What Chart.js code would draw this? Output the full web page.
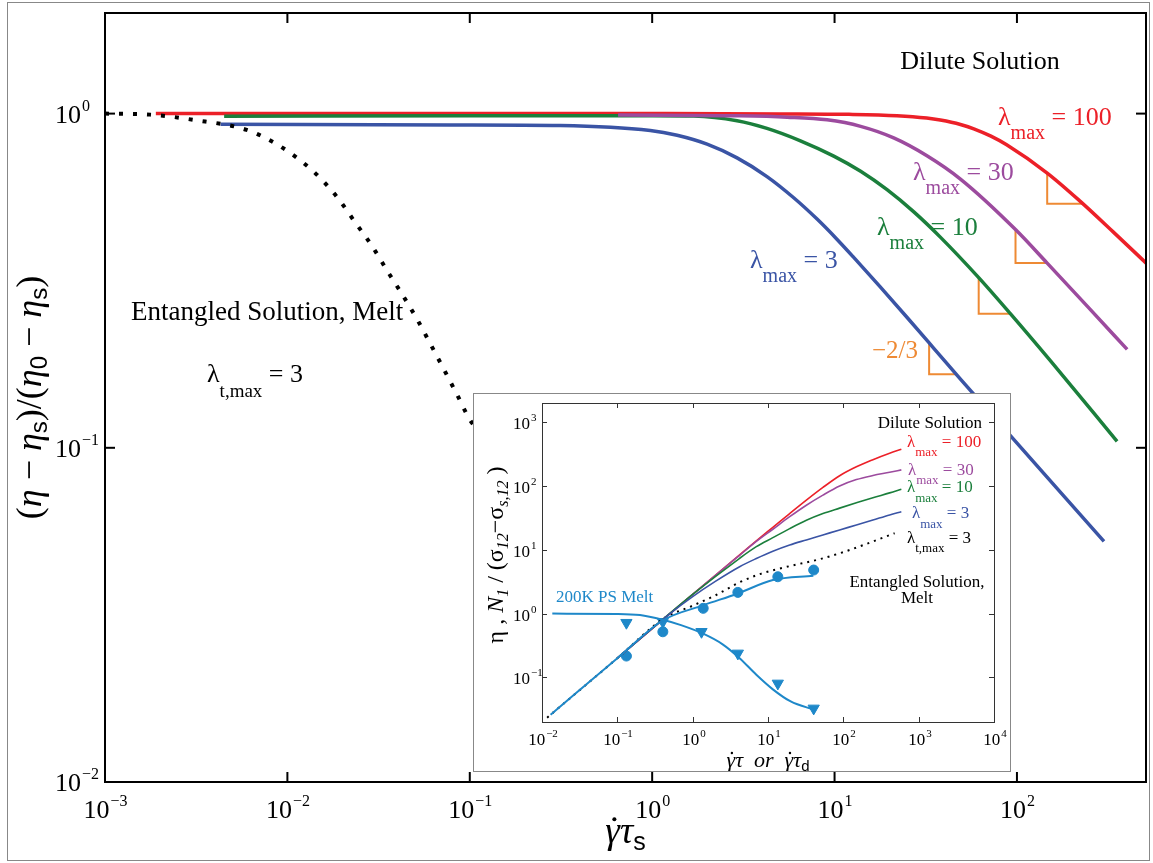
<!DOCTYPE html>
<html>
<head>
<meta charset="utf-8">
<script src="https://cdn.jsdelivr.net/npm/chart.js@4.4.1/dist/chart.umd.min.js"></script>
<style>
  body { margin: 0; background: #fff; }
  #wrap { position: relative; width: 1153px; height: 863px; }
  #main { position: absolute; left: 0; top: 0; }
  #outline { position: absolute; left: 7px; top: 2px; width: 1143px; height: 859px; border: 1px solid #888; box-sizing: border-box; pointer-events: none; }
  #insetBox { position: absolute; left: 473px; top: 393px; width: 538px; height: 379px; background: #fff; border: 1px solid #888; box-sizing: border-box; }
  #inset { position: absolute; left: 0; top: 0; }
</style>
</head>
<body>
<div id="wrap">
  <canvas id="main" width="1153" height="863"></canvas>
  <div id="insetBox"><canvas id="inset" width="536" height="377"></canvas></div>
  <div id="outline"></div>
</div>
<script>
// ---- main plot: (eta - eta_s)/(eta_0 - eta_s) vs shear rate * tau_s ----
const mainXTicks = [1e-3, 1e-2, 1e-1, 1, 10, 100];
const mainYTicks = [1e-2, 1e-1, 1];

const rate100 = [0.0019, 0.01, 0.1, 1, 5, 12, 22, 32, 38, 49, 58, 72, 87.8, 146.5, 222.5, 338, 520];
const eta100  = [1.0, 1.0, 1.0, 1.0, 0.998, 0.995, 0.9856, 0.9695, 0.9563, 0.9278, 0.9006, 0.856, 0.8067, 0.6639, 0.5463, 0.442, 0.3537];
const rate30  = [0.65, 3, 5.5, 9.1, 13.9, 21.1, 32.1, 49, 98.2, 146.5, 242.7, 402];
const eta30   = [0.99, 0.985, 0.976, 0.958, 0.916, 0.846, 0.748, 0.637, 0.45, 0.357, 0.2655, 0.197];
const rate10  = [0.0045, 0.1, 1.0, 1.69, 2.92, 4.26, 6.5, 9.9, 13.9, 19.4, 27.2, 38, 61.7, 92, 152.8, 354];
const eta10   = [0.982, 0.985, 0.986, 0.9835, 0.952, 0.903, 0.829, 0.746, 0.672, 0.592, 0.508, 0.427, 0.323, 0.252, 0.182, 0.1046];
const rate3   = [0.0043, 0.078, 0.313, 0.977, 1.37, 2.0, 2.92, 4.26, 5.97, 8.02, 10.3, 12.7, 17.8, 25, 35, 49, 300];
const eta3    = [0.93, 0.925, 0.921, 0.89, 0.861, 0.81, 0.737, 0.648, 0.56, 0.4835, 0.421, 0.372, 0.303, 0.2454, 0.1985, 0.1604, 0.0525];
const rateEnt = [0.001, 0.00177, 0.00305, 0.00598, 0.00838, 0.01148, 0.01499, 0.01905, 0.0235, 0.029, 0.0351, 0.0424, 0.0513, 0.0607, 0.0718, 0.085, 0.1005, 0.105];
const etaEnt  = [1.0, 0.993, 0.958, 0.894, 0.821, 0.732, 0.645, 0.556, 0.473, 0.403, 0.34, 0.289, 0.243, 0.205, 0.1725, 0.1445, 0.1208, 0.117];
// -2/3 slope triangles
const slopeRate = [[146.5, 146.5, 231], [98.2, 98.2, 147], [61.7, 61.7, 92], [33, 33, 46]];
const slopeEta  = [[0.664, 0.537, 0.537], [0.45, 0.357, 0.357], [0.323, 0.252, 0.252], [0.206, 0.166, 0.166]];

// ---- inset: eta, N1/(sigma12 - sigma_s,12) vs shear rate ----
const insetXTicks = [1e-2, 1e-1, 1, 10, 100, 1e3, 1e4];
const insetYTicks = [1e-1, 1, 10, 100, 1e3];

const inRate  = [0.1, 1, 4.2, 7, 11.6, 19.4, 32.3, 53.6, 89.3, 149, 247, 412, 589];
const inN100  = [0.2, 2.0, 8.3, 13.8, 22.5, 37, 60, 95, 145, 200, 258, 325, 377];
const inN30   = [0.2, 2.0, 8.2, 13.5, 21, 33, 50, 72, 100, 126, 146, 164, 179];
const inN10   = [0.2, 2.0, 7.36, 11.2, 15.5, 21.5, 29, 37, 45, 54.5, 65.5, 78, 89];
const inRate3 = [0.1, 0.5, 1, 2, 4.2, 7, 11.6, 19.4, 32.3, 53.6, 89.3, 149, 247, 412, 589];
const inN3    = [0.2, 1.0, 1.85, 3.2, 5.43, 7.3, 9.5, 11.9, 14.3, 17.1, 20.5, 24.5, 29.3, 35.2, 39.6];
const inRateEnt = [0.0117, 0.1, 0.415, 1, 2, 4.2, 8, 20, 48, 100, 200, 480];
const inNEnt    = [0.0234, 0.2, 0.842, 1.33, 1.93, 3.1, 4.2, 5.6, 7.1, 9.2, 12.3, 18.2];
const meltN1Rate = [0.013, 0.1, 0.4, 1.41, 3.9, 11.6, 40];
const meltN1     = [0.026, 0.2, 0.78, 1.36, 2.05, 3.36, 3.93];
const meltEtaRate = [0.0137, 0.1, 0.2, 0.4, 0.7, 1.4, 2.5, 4.2, 7, 11.6, 20, 41.6];
const meltEta     = [1.0, 0.99, 0.95, 0.8, 0.66, 0.48, 0.33, 0.2, 0.11, 0.065, 0.042, 0.031];
const meltN1DataRate  = [0.132, 0.402, 1.38, 3.98, 13.5, 40.4];
const meltN1Data      = [0.216, 0.519, 1.21, 2.15, 3.78, 4.82];
const meltEtaDataRate = [0.132, 0.402, 1.31, 3.98, 13.5, 40.4];
const meltEtaData     = [0.72, 0.745, 0.519, 0.238, 0.0805, 0.0327];

const RED = '#ec2028', PURPLE = '#9c4b9e', GREEN = '#1b7f3c', BLUE = '#3a54a5', ORANGE = '#ee8a34', CYAN = '#1e88c9';
const SERIF = '"Liberation Serif", "Times New Roman", serif';
const SANS = '"Liberation Sans", "DejaVu Sans", sans-serif';

function pts(xs, ys) { return xs.map((x, i) => ({ x: x, y: ys[i] })); }
function curve(xs, ys, color, width, dash) {
  return { data: pts(xs, ys), borderColor: color, backgroundColor: color, borderWidth: width,
    borderDash: dash || [], borderCapStyle: 'butt', pointRadius: 0, cubicInterpolationMode: 'monotone', fill: false };
}

// draws a run of text pieces (sizes, italics, sub/superscripts) left to right
function rich(ctx, x, y, parts, align, color) {
  let total = 0;
  const ws = parts.map(p => {
    ctx.font = (p.it ? 'italic ' : '') + p.s + 'px ' + (p.f || SERIF);
    const w = ctx.measureText(p.t).width; total += w; return w;
  });
  let cx = align === 'center' ? x - total / 2 : align === 'right' ? x - total : x;
  ctx.textAlign = 'left'; ctx.textBaseline = 'alphabetic';
  parts.forEach((p, i) => {
    ctx.font = (p.it ? 'italic ' : '') + p.s + 'px ' + (p.f || SERIF);
    ctx.fillStyle = p.c || color;
    ctx.fillText(p.t, cx, y + (p.dy || 0));
    if (p.dot) {
      ctx.beginPath();
      ctx.arc(cx + ws[i] * 0.62, y - p.s * 0.64, p.s * 0.055, 0, 2 * Math.PI);
      ctx.fill();
    }
    cx += ws[i];
  });
}
function lam(ctx, x, y, color, size, sub, subSize, subDy, rest) {
  rich(ctx, x, y, [{ t: 'λ', s: size }, { t: sub, s: subSize, dy: subDy }, { t: rest, s: size }], 'left', color);
}
function expText(v) {
  const e = Math.round(Math.log10(v));
  return e < 0 ? '\u2212' + (-e) : String(e);
}
function tickLabel(ctx, px, py, v, base, sup, supDy, mode) {
  const e = expText(v);
  ctx.font = base + 'px ' + SERIF; const w1 = ctx.measureText('10').width;
  ctx.font = sup + 'px ' + SERIF; const w2 = ctx.measureText(e).width;
  const x0 = mode === 'x' ? px - (w1 + w2) / 2 : px - w1;
  ctx.fillStyle = '#000'; ctx.textAlign = 'left'; ctx.textBaseline = 'alphabetic';
  ctx.font = base + 'px ' + SERIF; ctx.fillText('10', x0, py);
  ctx.font = sup + 'px ' + SERIF; ctx.fillText(e, x0 + w1 + 1, py + supDy);
}
function seg(ctx, x1, y1, x2, y2) { ctx.beginPath(); ctx.moveTo(x1, y1); ctx.lineTo(x2, y2); ctx.stroke(); }

const mainDecor = {
  id: 'mainDecor',
  afterDraw(chart) {
    const { ctx, chartArea: a } = chart;
    const sx = chart.scales.x, sy = chart.scales.y;
    ctx.save();
    ctx.strokeStyle = '#000'; ctx.lineWidth = 2;
    mainXTicks.forEach(v => {
      const px = sx.getPixelForValue(v);
      seg(ctx, px, a.bottom, px, a.bottom - 10); seg(ctx, px, a.top, px, a.top + 10);
      tickLabel(ctx, px, a.bottom + 36, v, 26, 16, -12, 'x');
    });
    mainYTicks.forEach(v => {
      const py = sy.getPixelForValue(v);
      seg(ctx, a.left, py, a.left + 10, py); seg(ctx, a.right, py, a.right - 10, py);
      tickLabel(ctx, 81, py + 9, v, 26, 16, -12, 'y');
    });
    ctx.strokeRect(a.left, a.top, a.right - a.left, a.bottom - a.top);

    // axis titles
    rich(ctx, (a.left + a.right) / 2, 843, [
      { t: 'γ', s: 37, it: true, dot: true }, { t: 'τ', s: 37, it: true }, { t: 's', s: 25, f: SANS, dy: 7 }
    ], 'center', '#000');
    ctx.save();
    ctx.translate(41, (a.top + a.bottom) / 2);
    ctx.rotate(-Math.PI / 2);
    rich(ctx, 0, 0, [
      { t: '(', s: 36 }, { t: 'η', s: 36, it: true }, { t: ' − ', s: 36 }, { t: 'η', s: 36, it: true },
      { t: 's', s: 24, f: SANS, dy: 6 }, { t: ')/(', s: 36 }, { t: 'η', s: 36, it: true },
      { t: '0', s: 24, f: SANS, dy: 6 }, { t: ' − ', s: 36 }, { t: 'η', s: 36, it: true },
      { t: 's', s: 24, f: SANS, dy: 6 }, { t: ')', s: 36 }
    ], 'center', '#000');
    ctx.restore();

    // annotations
    rich(ctx, 980, 69, [{ t: 'Dilute Solution', s: 26 }], 'center', '#000');
    lam(ctx, 998, 125, RED, 26, 'max', 20, 14, ' = 100');
    lam(ctx, 913, 180, PURPLE, 26, 'max', 20, 14, ' = 30');
    lam(ctx, 877, 235, GREEN, 26, 'max', 20, 14, ' = 10');
    lam(ctx, 750, 268, BLUE, 26, 'max', 20, 14, ' = 3');
    rich(ctx, 872, 358, [{ t: '\u22122/3', s: 25 }], 'left', ORANGE);
    rich(ctx, 131, 320, [{ t: 'Entangled Solution, Melt', s: 27 }], 'left', '#000');
    lam(ctx, 207, 382, '#000', 26, 't,max', 19, 15, ' = 3');
    ctx.restore();
  }
};

const insetDecor = {
  id: 'insetDecor',
  afterDraw(chart) {
    const { ctx, chartArea: a } = chart;
    const sx = chart.scales.x, sy = chart.scales.y;
    ctx.save();
    ctx.strokeStyle = '#333'; ctx.lineWidth = 1;
    insetXTicks.forEach(v => {
      const px = Math.round(sx.getPixelForValue(v)) + 0.5;
      seg(ctx, px, a.bottom, px, a.bottom - 5); seg(ctx, px, a.top, px, a.top + 5);
      tickLabel(ctx, px, a.bottom + 23, v, 17, 11, -8, 'x');
    });
    insetYTicks.forEach(v => {
      const py = Math.round(sy.getPixelForValue(v)) + 0.5;
      seg(ctx, a.left, py, a.left + 5, py); seg(ctx, a.right, py, a.right - 5, py);
      tickLabel(ctx, a.left - 12, py + 6, v, 17, 11, -8, 'y');
    });
    ctx.strokeRect(Math.round(a.left) + 0.5, Math.round(a.top) + 0.5, Math.round(a.right - a.left), Math.round(a.bottom - a.top));

    // text placed in page coordinates
    ctx.translate(-474, -394);
    rich(ctx, 768, 767, [
      { t: 'γ', s: 22, it: true, dot: true }, { t: 'τ', s: 22, it: true }, { t: '  or  ', s: 22, it: true },
      { t: 'γ', s: 22, it: true, dot: true }, { t: 'τ', s: 22, it: true }, { t: 'd', s: 15, f: SANS, dy: 4 }
    ], 'center', '#000');
    ctx.save();
    ctx.translate(503, 555);
    ctx.rotate(-Math.PI / 2);
    rich(ctx, 0, 0, [
      { t: 'η , ', s: 24 }, { t: 'N', s: 24, it: true }, { t: '1', s: 16, it: true, dy: 5 },
      { t: ' / (σ', s: 24 }, { t: '12', s: 16, it: true, dy: 5 }, { t: '−σ', s: 24 },
      { t: 's,12', s: 16, it: true, dy: 5 }, { t: ' )', s: 24 }
    ], 'center', '#000');
    ctx.restore();

    rich(ctx, 982, 428, [{ t: 'Dilute Solution', s: 17 }], 'right', '#000');
    lam(ctx, 907, 447, RED, 17, 'max', 13, 9, ' = 100');
    lam(ctx, 908, 475, PURPLE, 17, 'max', 13, 9, ' = 30');
    lam(ctx, 907, 492, GREEN, 17, 'max', 13, 10, ' = 10');
    lam(ctx, 912, 518, BLUE, 17, 'max', 13, 10, ' = 3');
    lam(ctx, 907, 543, '#000', 17, 't,max', 13, 9, ' = 3');
    rich(ctx, 917, 587, [{ t: 'Entangled Solution,', s: 17 }], 'center', '#000');
    rich(ctx, 917, 603, [{ t: 'Melt', s: 17 }], 'center', '#000');
    rich(ctx, 556, 602, [{ t: '200K PS Melt', s: 17 }], 'left', CYAN);
    ctx.restore();
  }
};

function logAxis(min, max, size, horizontal) {
  return {
    type: 'logarithmic', min: min, max: max,
    ticks: { display: false }, grid: { display: false }, border: { display: false },
    afterFit: s => { if (horizontal) s.height = size; else s.width = size; }
  };
}

const common = {
  responsive: false, animation: false, devicePixelRatio: 1,
  plugins: { legend: { display: false }, tooltip: { enabled: false } },
  events: []
};

const mainSets = [
  curve(rateEnt, etaEnt, '#000', 4, [4, 10]),
  curve(rate30, eta30, PURPLE, 3.5),
  curve(rate10, eta10, GREEN, 3.5),
  curve(rate3, eta3, BLUE, 3.5),
  curve(rate100, eta100, RED, 3.5)
];
slopeRate.forEach((xs, i) => {
  const d = curve(xs, slopeEta[i], ORANGE, 2);
  d.cubicInterpolationMode = 'default'; d.tension = 0;
  mainSets.push(d);
});

new Chart(document.getElementById('main'), {
  type: 'line',
  data: { datasets: mainSets },
  options: Object.assign({}, common, {
    layout: { padding: { top: 13, right: 7, left: 0, bottom: 0 } },
    scales: { x: logAxis(1e-3, 510, 81, true), y: logAxis(1e-2, 2, 105, false) }
  }),
  plugins: [mainDecor]
});

function markers(xs, ys, style, rot, r) {
  return { data: pts(xs, ys), showLine: false, pointStyle: style, pointRotation: rot, pointRadius: r,
    pointBackgroundColor: CYAN, pointBorderColor: CYAN, pointBorderWidth: 1, borderColor: CYAN, backgroundColor: CYAN };
}

new Chart(document.getElementById('inset'), {
  type: 'line',
  data: {
    datasets: [
      curve(meltEtaRate, meltEta, CYAN, 2),
      curve(meltN1Rate, meltN1, CYAN, 2),
      curve(inRate3, inN3, BLUE, 1.6),
      curve(inRate, inN10, GREEN, 1.6),
      curve(inRate, inN30, PURPLE, 1.6),
      curve(inRate, inN100, RED, 1.6),
      curve(inRateEnt, inNEnt, '#000', 2, [2, 5]),
      markers(meltN1DataRate, meltN1Data, 'circle', 0, 5),
      markers(meltEtaDataRate, meltEtaData, 'triangle', 180, 6.5)
    ]
  },
  options: Object.assign({}, common, {
    layout: { padding: { top: 9, right: 16, left: 0, bottom: 0 } },
    scales: { x: logAxis(1e-2, 1e4, 49, true), y: logAxis(0.02, 2000, 68, false) }
  }),
  plugins: [insetDecor]
});
</script>
</body>
</html>
